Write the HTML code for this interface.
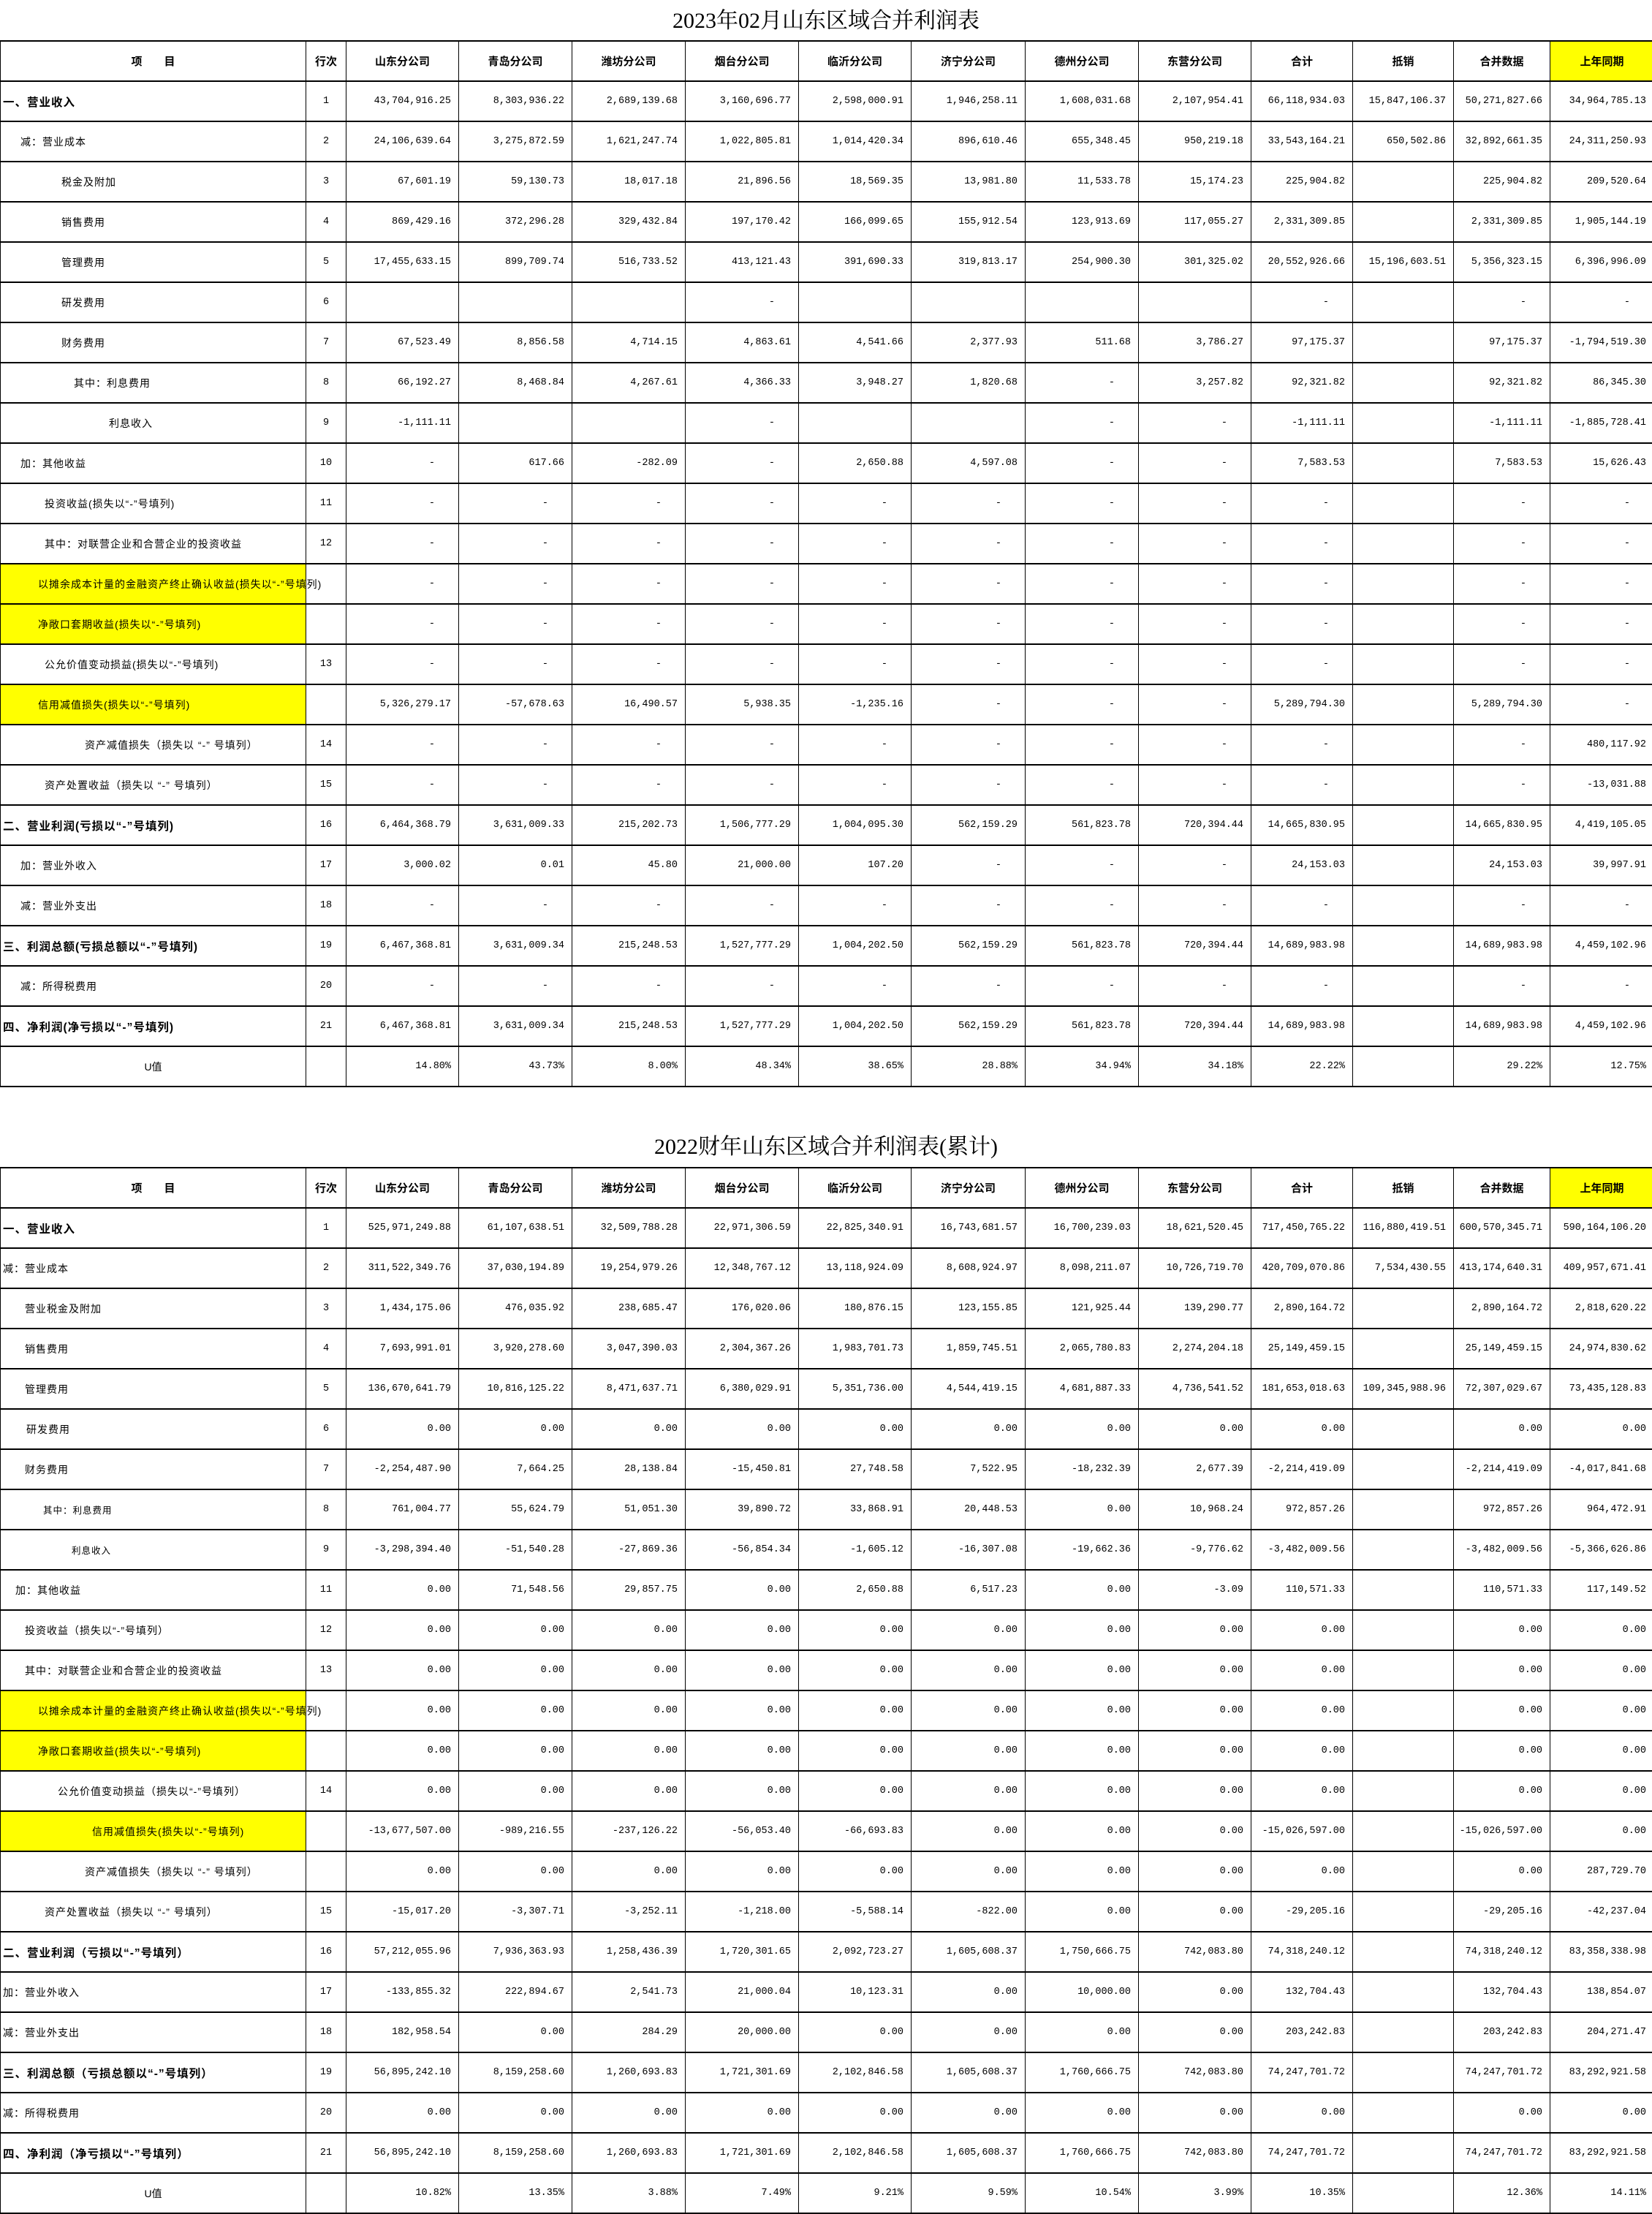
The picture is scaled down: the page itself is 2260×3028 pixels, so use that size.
<!DOCTYPE html>
<html lang="zh">
<head>
<meta charset="utf-8">
<style>
  html,body{margin:0;padding:0;background:#fff;}
  body{width:2260px;height:3026px;position:relative;overflow:hidden;
    font-family:"Liberation Sans","Noto Sans CJK SC",sans-serif;color:#000;}
  .title{position:absolute;left:0;width:2260px;text-align:center;font-size:30px;
    font-family:"Liberation Serif","Noto Serif CJK SC",serif;line-height:40px;}
  .cell{position:absolute;box-sizing:border-box;border-left:1px solid #000;border-top:2px solid #000;
    display:flex;align-items:center;white-space:nowrap;overflow:visible;}
  .num{justify-content:flex-end;padding-right:10px;font-family:"Liberation Mono","Noto Sans CJK SC",monospace;font-size:13.5px;}
  .dash{padding-right:32px;}
  .rn{justify-content:center;font-family:"Liberation Mono",monospace;font-size:13.5px;}
  .lab{font-size:14px;letter-spacing:1px;font-family:"Liberation Sans","Noto Sans CJK SC",sans-serif;}
  .bold{font-weight:bold;font-size:15.5px;}
  .small{font-size:12.5px;}
  .hdr{justify-content:center;font-weight:bold;font-size:15px;}
  .yellow{background:#ffff00;}
</style>
</head>
<body>
<div class="title" style="top:9px">2023年02月山东区域合并利润表</div>
<div class="title" style="top:1549px">2022财年山东区域合并利润表(累计)</div>
<div id="t1"></div>
<div id="t2"></div>
<script>
const headers = ['项　　目','行次','山东分公司','青岛分公司','潍坊分公司','烟台分公司','临沂分公司','济宁分公司','德州分公司','东营分公司','合计','抵销','合并数据','上年同期'];
const colW = [418,55,154,155,155,155,154,156,155,154,139,138,132,140];

const t1Labels = [
 ['一、营业收入',3,'b'],['减：营业成本',27,''],['税金及附加',83,''],['销售费用',83,''],['管理费用',83,''],
 ['研发费用',83,''],['财务费用',83,''],['其中：利息费用',100,''],['利息收入',148,''],['加：其他收益',27,''],
 ['投资收益(损失以“-”号填列)',60,''],['其中：对联营企业和合营企业的投资收益',60,''],
 ['以摊余成本计量的金融资产终止确认收益(损失以“-”号填列)',51,'y'],['净敞口套期收益(损失以“-”号填列)',51,'y'],
 ['公允价值变动损益(损失以“-”号填列)',60,''],['信用减值损失(损失以“-”号填列)',51,'y'],
 ['资产减值损失（损失以 “-” 号填列）',115,''],['资产处置收益（损失以 “-” 号填列）',60,''],
 ['二、营业利润(亏损以“-”号填列)',3,'b'],['加：营业外收入',27,''],['减：营业外支出',27,''],
 ['三、利润总额(亏损总额以“-”号填列)',3,'b'],['减：所得税费用',27,''],['四、净利润(净亏损以“-”号填列)',3,'b'],['U值',-1,'']
];
const t1RowNo = ['1','2','3','4','5','6','7','8','9','10','11','12','','','13','','14','15','16','17','18','19','20','21',''];
const D = ['-','-','-','-','-','-','-','-','-','','-','-'];
const t1Values = [
 ['43,704,916.25','8,303,936.22','2,689,139.68','3,160,696.77','2,598,000.91','1,946,258.11','1,608,031.68','2,107,954.41','66,118,934.03','15,847,106.37','50,271,827.66','34,964,785.13'],
 ['24,106,639.64','3,275,872.59','1,621,247.74','1,022,805.81','1,014,420.34','896,610.46','655,348.45','950,219.18','33,543,164.21','650,502.86','32,892,661.35','24,311,250.93'],
 ['67,601.19','59,130.73','18,017.18','21,896.56','18,569.35','13,981.80','11,533.78','15,174.23','225,904.82','','225,904.82','209,520.64'],
 ['869,429.16','372,296.28','329,432.84','197,170.42','166,099.65','155,912.54','123,913.69','117,055.27','2,331,309.85','','2,331,309.85','1,905,144.19'],
 ['17,455,633.15','899,709.74','516,733.52','413,121.43','391,690.33','319,813.17','254,900.30','301,325.02','20,552,926.66','15,196,603.51','5,356,323.15','6,396,996.09'],
 ['','','','-','','','','','-','','-','-'],
 ['67,523.49','8,856.58','4,714.15','4,863.61','4,541.66','2,377.93','511.68','3,786.27','97,175.37','','97,175.37','-1,794,519.30'],
 ['66,192.27','8,468.84','4,267.61','4,366.33','3,948.27','1,820.68','-','3,257.82','92,321.82','','92,321.82','86,345.30'],
 ['-1,111.11','','','-','','','-','-','-1,111.11','','-1,111.11','-1,885,728.41'],
 ['-','617.66','-282.09','-','2,650.88','4,597.08','-','-','7,583.53','','7,583.53','15,626.43'],
 D, D, D, D, D,
 ['5,326,279.17','-57,678.63','16,490.57','5,938.35','-1,235.16','-','-','-','5,289,794.30','','5,289,794.30','-'],
 ['-','-','-','-','-','-','-','-','-','','-','480,117.92'],
 ['-','-','-','-','-','-','-','-','-','','-','-13,031.88'],
 ['6,464,368.79','3,631,009.33','215,202.73','1,506,777.29','1,004,095.30','562,159.29','561,823.78','720,394.44','14,665,830.95','','14,665,830.95','4,419,105.05'],
 ['3,000.02','0.01','45.80','21,000.00','107.20','-','-','-','24,153.03','','24,153.03','39,997.91'],
 D,
 ['6,467,368.81','3,631,009.34','215,248.53','1,527,777.29','1,004,202.50','562,159.29','561,823.78','720,394.44','14,689,983.98','','14,689,983.98','4,459,102.96'],
 D,
 ['6,467,368.81','3,631,009.34','215,248.53','1,527,777.29','1,004,202.50','562,159.29','561,823.78','720,394.44','14,689,983.98','','14,689,983.98','4,459,102.96'],
 ['14.80%','43.73%','8.00%','48.34%','38.65%','28.88%','34.94%','34.18%','22.22%','','29.22%','12.75%']
];

const t2Labels = [
 ['一、营业收入',3,'b'],['减：营业成本',3,''],['营业税金及附加',33,''],['销售费用',33,''],['管理费用',33,''],
 ['研发费用',35,''],['财务费用',33,''],['其中：利息费用',58,'s'],['利息收入',97,'s'],['加：其他收益',20,''],
 ['投资收益（损失以“-”号填列）',33,''],['其中：对联营企业和合营企业的投资收益',33,''],
 ['以摊余成本计量的金融资产终止确认收益(损失以“-”号填列)',51,'y'],['净敞口套期收益(损失以“-”号填列)',51,'y'],
 ['公允价值变动损益（损失以“-”号填列）',78,''],['信用减值损失(损失以“-”号填列)',125,'y'],
 ['资产减值损失（损失以 “-” 号填列）',115,''],['资产处置收益（损失以 “-” 号填列）',60,''],
 ['二、营业利润（亏损以“-”号填列）',3,'b'],['加：营业外收入',3,''],['减：营业外支出',3,''],
 ['三、利润总额（亏损总额以“-”号填列）',3,'b'],['减：所得税费用',3,''],['四、净利润（净亏损以“-”号填列）',3,'b'],['U值',-1,'']
];
const t2RowNo = ['1','2','3','4','5','6','7','8','9','11','12','13','','','14','','','15','16','17','18','19','20','21',''];
const Z = ['0.00','0.00','0.00','0.00','0.00','0.00','0.00','0.00','0.00','','0.00','0.00'];
const t2Values = [
 ['525,971,249.88','61,107,638.51','32,509,788.28','22,971,306.59','22,825,340.91','16,743,681.57','16,700,239.03','18,621,520.45','717,450,765.22','116,880,419.51','600,570,345.71','590,164,106.20'],
 ['311,522,349.76','37,030,194.89','19,254,979.26','12,348,767.12','13,118,924.09','8,608,924.97','8,098,211.07','10,726,719.70','420,709,070.86','7,534,430.55','413,174,640.31','409,957,671.41'],
 ['1,434,175.06','476,035.92','238,685.47','176,020.06','180,876.15','123,155.85','121,925.44','139,290.77','2,890,164.72','','2,890,164.72','2,818,620.22'],
 ['7,693,991.01','3,920,278.60','3,047,390.03','2,304,367.26','1,983,701.73','1,859,745.51','2,065,780.83','2,274,204.18','25,149,459.15','','25,149,459.15','24,974,830.62'],
 ['136,670,641.79','10,816,125.22','8,471,637.71','6,380,029.91','5,351,736.00','4,544,419.15','4,681,887.33','4,736,541.52','181,653,018.63','109,345,988.96','72,307,029.67','73,435,128.83'],
 Z,
 ['-2,254,487.90','7,664.25','28,138.84','-15,450.81','27,748.58','7,522.95','-18,232.39','2,677.39','-2,214,419.09','','-2,214,419.09','-4,017,841.68'],
 ['761,004.77','55,624.79','51,051.30','39,890.72','33,868.91','20,448.53','0.00','10,968.24','972,857.26','','972,857.26','964,472.91'],
 ['-3,298,394.40','-51,540.28','-27,869.36','-56,854.34','-1,605.12','-16,307.08','-19,662.36','-9,776.62','-3,482,009.56','','-3,482,009.56','-5,366,626.86'],
 ['0.00','71,548.56','29,857.75','0.00','2,650.88','6,517.23','0.00','-3.09','110,571.33','','110,571.33','117,149.52'],
 Z, Z, Z, Z, Z,
 ['-13,677,507.00','-989,216.55','-237,126.22','-56,053.40','-66,693.83','0.00','0.00','0.00','-15,026,597.00','','-15,026,597.00','0.00'],
 ['0.00','0.00','0.00','0.00','0.00','0.00','0.00','0.00','0.00','','0.00','287,729.70'],
 ['-15,017.20','-3,307.71','-3,252.11','-1,218.00','-5,588.14','-822.00','0.00','0.00','-29,205.16','','-29,205.16','-42,237.04'],
 ['57,212,055.96','7,936,363.93','1,258,436.39','1,720,301.65','2,092,723.27','1,605,608.37','1,750,666.75','742,083.80','74,318,240.12','','74,318,240.12','83,358,338.98'],
 ['-133,855.32','222,894.67','2,541.73','21,000.04','10,123.31','0.00','10,000.00','0.00','132,704.43','','132,704.43','138,854.07'],
 ['182,958.54','0.00','284.29','20,000.00','0.00','0.00','0.00','0.00','203,242.83','','203,242.83','204,271.47'],
 ['56,895,242.10','8,159,258.60','1,260,693.83','1,721,301.69','2,102,846.58','1,605,608.37','1,760,666.75','742,083.80','74,247,701.72','','74,247,701.72','83,292,921.58'],
 Z,
 ['56,895,242.10','8,159,258.60','1,260,693.83','1,721,301.69','2,102,846.58','1,605,608.37','1,760,666.75','742,083.80','74,247,701.72','','74,247,701.72','83,292,921.58'],
 ['10.82%','13.35%','3.88%','7.49%','9.21%','9.59%','10.54%','3.99%','10.35%','','12.36%','14.11%']
];

const ROW_H = 55;

function makeCell(parent, x, y, w, h, cls, text) {
  const d = document.createElement('div');
  d.className = 'cell ' + cls;
  d.style.left = x + 'px'; d.style.top = y + 'px';
  d.style.width = w + 'px'; d.style.height = h + 'px';
  d.textContent = text;
  parent.appendChild(d);
  return d;
}

function buildTable(host, top, labels, rowNos, values, prefix) {
  const colX = [];
  let acc = 0;
  for (const w of colW) { colX.push(acc); acc += w; }
  for (let c = 0; c < headers.length; c++) {
    const w = c === headers.length - 1 ? colW[c] + 2 : colW[c];
    const el = makeCell(host, colX[c], top, w, ROW_H, 'hdr' + (c === 13 ? ' yellow' : ''), headers[c]);
    
    
  }
  for (let r = 0; r < labels.length; r++) {
    const y = top + ROW_H * (r + 1);
    const [txt, ind, flag] = labels[r];
    let cls = 'lab';
    if (flag === 'b') cls += ' bold';
    if (flag === 's') cls += ' small';
    if (flag === 'y') cls += ' yellow';
    const lab = makeCell(host, colX[0], y, colW[0], ROW_H, cls, txt);
    if (ind < 0) { lab.style.justifyContent = 'center'; lab.style.letterSpacing = '0'; }
    else lab.style.paddingLeft = ind + 'px';
    
    
    const rn = makeCell(host, colX[1], y, colW[1], ROW_H, 'rn', rowNos[r]);
    
    
    for (let c = 0; c < 12; c++) {
      const v = values[r][c];
      const ci = c + 2;
      const w = ci === 13 ? colW[ci] + 2 : colW[ci];
      const el = makeCell(host, colX[ci], y, w, ROW_H, 'num' + (v === '-' ? ' dash' : ''), v);
      
      
    }
  }
  const b = document.createElement('div');
  b.style.cssText = 'position:absolute;left:0;width:2260px;height:2px;background:#000;top:' + (top + ROW_H * (labels.length + 1)) + 'px';
  
  
  host.appendChild(b);
}

buildTable(document.getElementById('t1'), 55, t1Labels, t1RowNo, t1Values, 't1');
buildTable(document.getElementById('t2'), 1596, t2Labels, t2RowNo, t2Values, 't2');
</script>
</body>
</html>
